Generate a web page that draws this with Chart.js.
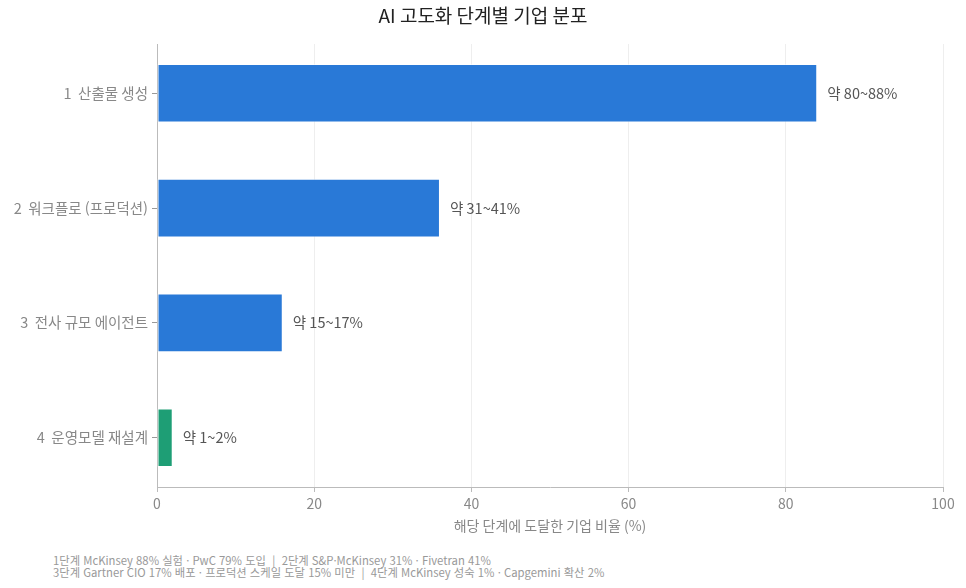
<!DOCTYPE html>
<html lang="ko">
<head>
<meta charset="utf-8">
<script src="https://cdn.jsdelivr.net/npm/chart.js@4.4.1/dist/chart.umd.min.js"></script>
<style>
  html, body { margin: 0; padding: 0; background: #fff; }
  #wrap { position: relative; width: 966px; height: 588px; }
  #chart-box { position: absolute; left: 0; top: 0; width: 966px; height: 548px; }
  #note {
    position: absolute; left: 53px; top: 554px;
    font-family: "Noto Sans CJK KR", "Noto Sans", sans-serif;
    font-size: 11.3px; line-height: 12px; color: #999;
    white-space: pre;
  }
</style>
</head>
<body>
<div id="wrap">
  <div id="chart-box"><canvas id="stage-chart"></canvas></div>
  <div id="note"></div>
</div>
<script>
// ── Data ───────────────────────────────────────────────────────────────────
const chartTitle  = "AI 고도화 단계별 기업 분포";
const stageLabels = ["1  산출물 생성", "2  워크플로 (프로덕션)", "3  전사 규모 에이전트", "4  운영모델 재설계"];
const stageValues = [84, 36, 16, 2];
const rangeLabels = ["약 80~88%", "약 31~41%", "약 15~17%", "약 1~2%"];
const barColors   = ["#2979d7", "#2979d7", "#2979d7", "#1e9e75"];
const xTicks      = [0, 20, 40, 60, 80, 100];
const noteLines   = [
  "1단계 McKinsey 88% 실험 · PwC 79% 도입  |  2단계 S&P·McKinsey 31% · Fivetran 41%",
  "3단계 Gartner CIO 17% 배포 · 프로덕션 스케일 도달 15% 미만  |  4단계 McKinsey 성숙 1% · Capgemini 확산 2%",
];

const FONT = "'Noto Sans CJK KR', 'Noto Sans', sans-serif";

document.getElementById("note").textContent = noteLines.join("\n");

// ── Title centred on the whole canvas (not the padded box) ─────────────────
const pageTitlePlugin = {
  id: "pageTitle",
  afterDraw(chart) {
    const { ctx } = chart;
    ctx.save();
    ctx.font = `19px ${FONT}`;
    ctx.fillStyle = "#222";
    ctx.textAlign = "center";
    ctx.textBaseline = "middle";
    ctx.fillText(chartTitle, chart.width / 2, 16);
    ctx.restore();
  },
};

// ── Value labels at bar ends ───────────────────────────────────────────────
const barLabelPlugin = {
  id: "barLabels",
  afterDatasetsDraw(chart) {
    const { ctx } = chart;
    const meta = chart.getDatasetMeta(0);
    ctx.save();
    ctx.font = `14.5px ${FONT}`;
    ctx.fillStyle = "#555";
    ctx.textAlign = "left";
    ctx.textBaseline = "middle";
    meta.data.forEach((bar, i) => {
      ctx.fillText(rangeLabels[i], bar.x + 10, bar.y);
    });
    ctx.restore();
  },
};

// ── Chart ──────────────────────────────────────────────────────────────────
const ctx = document.getElementById("stage-chart").getContext("2d");
new Chart(ctx, {
  type: "bar",
  data: {
    datasets: [{
      data: stageValues.map((v, i) => ({ x: v, y: i })),
      backgroundColor: barColors,
      borderColor: "rgba(255,255,255,0.55)",
      borderWidth: 1,
      borderSkipped: false,
      categoryPercentage: 1,
      barPercentage: 0.51,
    }],
  },
  options: {
    indexAxis: "y",
    responsive: true,
    maintainAspectRatio: false,
    animation: false,
    layout: { padding: { left: 0, right: 23, top: 44, bottom: 14 } },
    plugins: {
      legend: { display: false },
      tooltip: { enabled: false },
      title: { display: false },
    },
    scales: {
      x: {
        type: "linear",
        min: 0,
        max: 100,
        afterBuildTicks: (scale) => { scale.ticks = xTicks.map((v) => ({ value: v })); },
        afterFit: (scale) => { scale.height = 47; },
        grid: { color: "#eeeeee", tickColor: "#bbbbbb", tickLength: 5 },
        border: { color: "#bbbbbb" },
        ticks: { color: "#888", padding: 3, font: { family: FONT, size: 14 } },
        title: {
          display: true,
          text: "해당 단계에 도달한 기업 비율 (%)",
          color: "#888",
          font: { family: FONT, size: 14 },
          padding: { top: 0, bottom: 0 },
        },
      },
      y: {
        type: "linear",
        reverse: true,
        offset: false,
        min: -0.43,
        max: 3.43,
        afterBuildTicks: (scale) => { scale.ticks = stageLabels.map((_, i) => ({ value: i })); },
        afterFit: (scale) => { scale.width = 157; },
        grid: { offset: false, drawOnChartArea: false, tickColor: "#999", tickLength: 5 },
        border: { color: "#bbbbbb" },
        ticks: {
          color: "#888",
          padding: 4,
          font: { family: FONT, size: 14.5 },
          callback: (v) => stageLabels[v] ?? "",
        },
      },
    },
  },
  plugins: [barLabelPlugin, pageTitlePlugin],
});
</script>
</body>
</html>
